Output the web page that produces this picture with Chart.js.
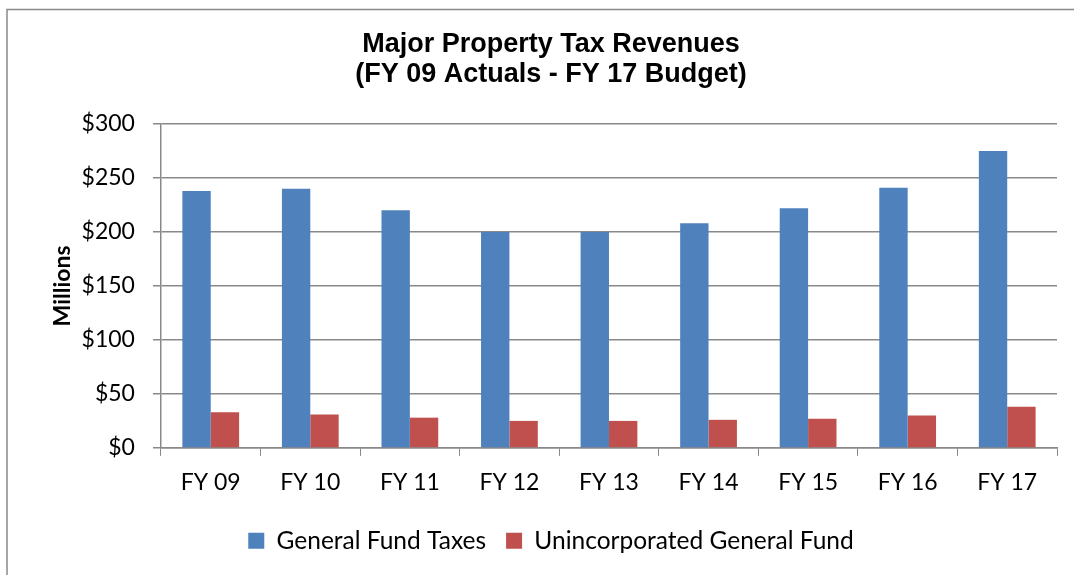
<!DOCTYPE html>
<html>
<head>
<meta charset="utf-8">
<script src="https://cdn.jsdelivr.net/npm/chart.js@4/dist/chart.umd.min.js"></script>
<style>
  body { margin: 0; background: #fff; }
  #contenedor { width: 1074px; height: 575px; }
</style>
</head>
<body>
<div id="contenedor"><canvas id="myChart"></canvas></div>
<script>
// categorias del eje x
const categorias = ["FY 09", "FY 10", "FY 11", "FY 12", "FY 13", "FY 14", "FY 15", "FY 16", "FY 17"]
// valores en millones
const generalFund = [238, 240, 220, 200, 200, 208, 222, 241, 275]
const unincorporated = [33, 31, 28, 25, 25, 26, 27, 30, 38]
// marcas del eje y
const marcasY = [0, 50, 100, 150, 200, 250, 300]

const gris = "#898989"

// marco gris del grafico (como en excel)
const marco = {
    id: "marco",
    beforeDraw(chart) {
        const ctx = chart.ctx
        ctx.save()
        ctx.strokeStyle = gris
        ctx.lineWidth = 1.5
        ctx.beginPath()
        ctx.moveTo(7, 600)
        ctx.lineTo(7, 9.5)
        ctx.lineTo(1100, 9.5)
        ctx.stroke()
        ctx.restore()
    }
}

const grafica = document.getElementById("myChart").getContext("2d")

const myChart = new Chart(grafica, {
    type: "bar",
    data: {
        labels: categorias,
        datasets: [
            {
                label: "General Fund Taxes",
                data: generalFund,
                backgroundColor: "#4F81BD",
                barPercentage: 1,
                categoryPercentage: 0.57
            },
            {
                label: "Unincorporated General Fund",
                data: unincorporated,
                backgroundColor: "#C0504D",
                barPercentage: 1,
                categoryPercentage: 0.57
            }
        ]
    },
    options: {
        responsive: true,
        maintainAspectRatio: false,
        animation: false,
        layout: {
            padding: { top: 10, left: 45, right: 17, bottom: 12 }
        },
        plugins: {
            title: {
                display: true,
                text: ["Major Property Tax Revenues", "(FY 09 Actuals - FY 17 Budget)"],
                color: "#000",
                font: { family: "'Liberation Sans', Arial", size: 27, weight: "bold", lineHeight: 1.11 },
                padding: { top: 20, bottom: 34 }
            },
            legend: {
                position: "bottom",
                labels: {
                    color: "#000",
                    boxWidth: 16,
                    boxHeight: 16,
                    padding: 20,
                    font: { family: "Lato", size: 24.5 }
                }
            },
            tooltip: { enabled: false }
        },
        scales: {
            x: {
                grid: {
                    display: true,
                    drawOnChartArea: false,
                    drawTicks: true,
                    tickLength: 8,
                    offset: true,
                    color: gris
                },
                border: { color: gris, width: 1.5 },
                ticks: {
                    color: "#000",
                    padding: 13,
                    font: { family: "Lato", size: 23 }
                },
                afterFit: (escala) => { escala.height -= 1 }
            },
            y: {
                min: marcasY[0],
                max: marcasY[marcasY.length - 1],
                afterBuildTicks: (escala) => {
                    escala.ticks = marcasY.map(v => ({ value: v }))
                },
                afterFit: (escala) => { escala.width -= 17 },
                grid: { color: gris, lineWidth: 1.5, tickLength: 8 },
                border: { color: gris, width: 1.5 },
                ticks: {
                    color: "#000",
                    padding: 18,
                    font: { family: "Lato", size: 23 },
                    callback: (v) => "$" + v
                },
                title: {
                    display: true,
                    text: "Millions",
                    color: "#000",
                    font: { family: "Lato", size: 23, weight: "bold" }
                }
            }
        }
    },
    plugins: [marco]
})
</script>
</body>
</html>
